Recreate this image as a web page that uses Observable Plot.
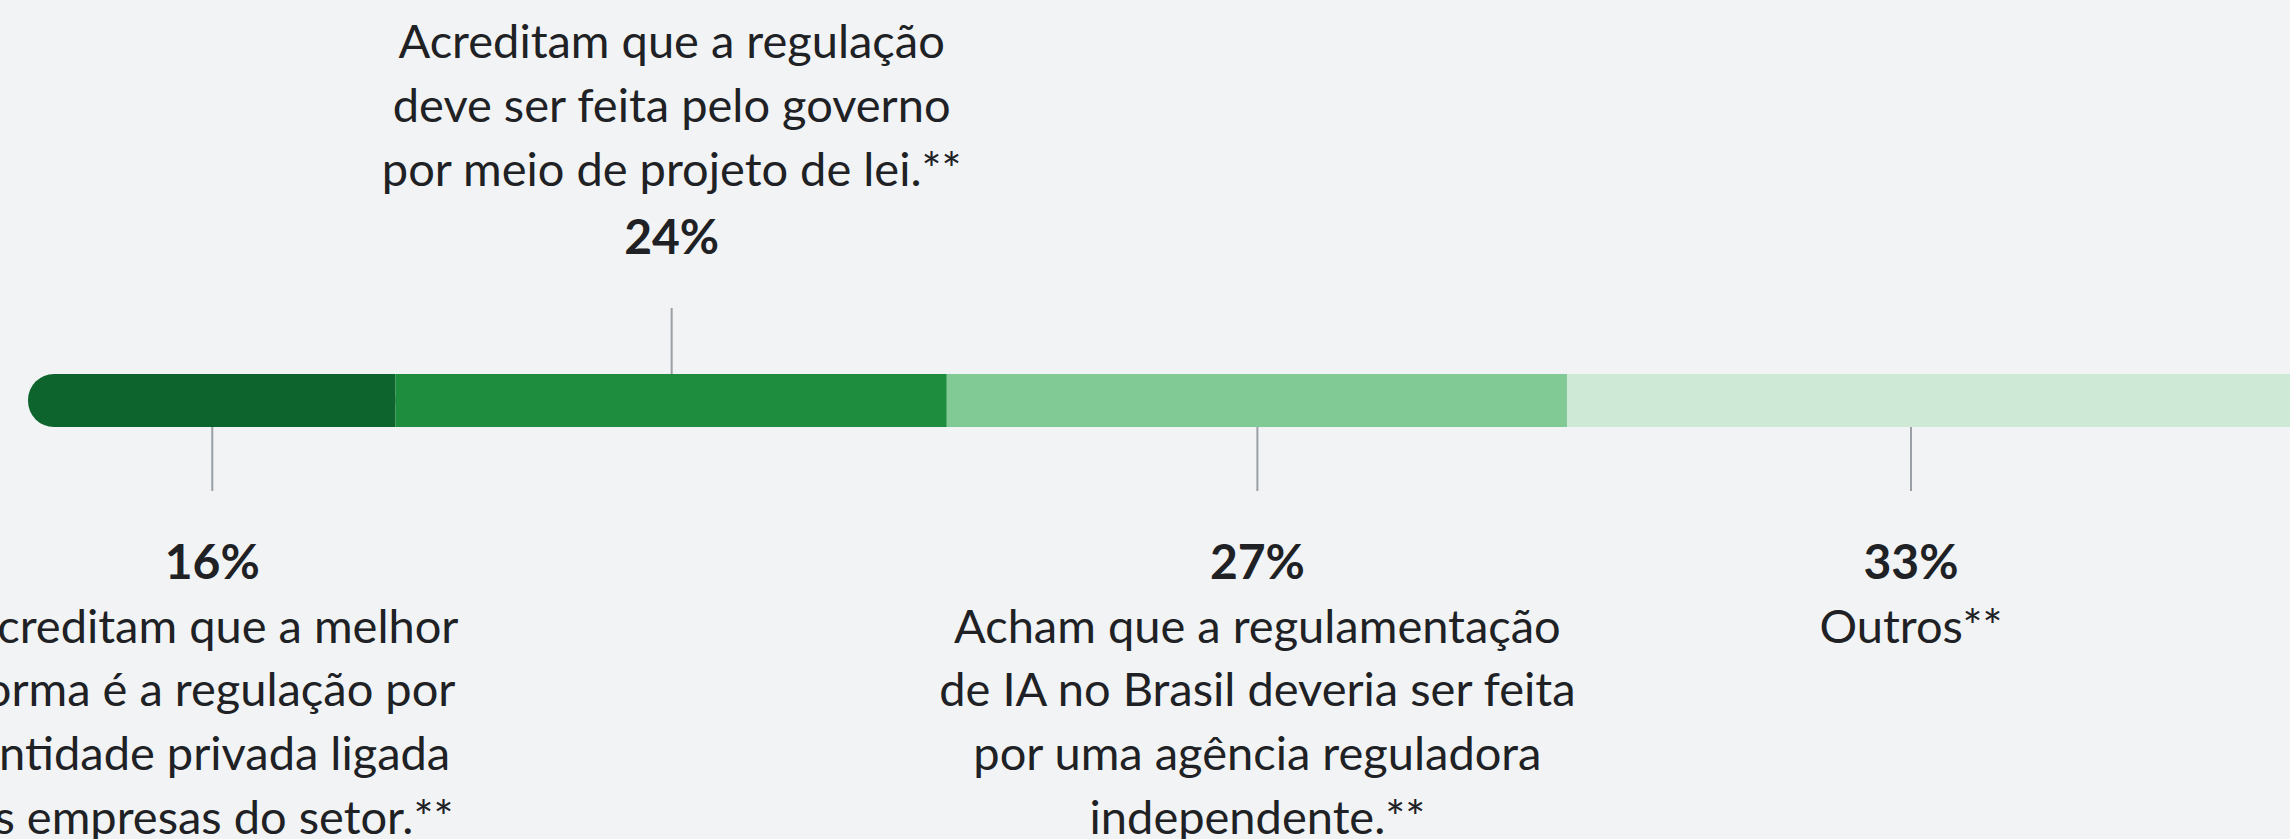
<!DOCTYPE html>
<html>
<head>
<meta charset="utf-8">
<script src="https://cdn.jsdelivr.net/npm/d3@7"></script>
<script src="https://cdn.jsdelivr.net/npm/@observablehq/plot@0.6"></script>
<style>
  html, body { margin: 0; padding: 0; background: #f1f3f4; }
  #chart svg { display: block; background: #f1f3f4; }
</style>
</head>
<body>
<div id="chart"></div>
<script>
// ---- data ----
const categories = ["Entidade privada", "Projeto de lei", "Agência reguladora", "Outros"];
const values = [16, 24, 27, 33];
const percentLabels = ["16%", "24%", "27%", "33%"];
const descriptions = [
  "Acreditam que a melhor\nforma é a regulação por\nentidade privada ligada\nàs empresas do setor.**",
  "Acreditam que a regulação\ndeve ser feita pelo governo\npor meio de projeto de lei.**",
  "Acham que a regulamentação\nde IA no Brasil deveria ser feita\npor uma agência reguladora\nindependente.**",
  "Outros**"
];
const colors = ["#0d652d", "#1e8e3e", "#81c995", "#ceead6"];

// ---- build table ----
const W = 2290, H = 839;
const xRange = [28, 2325];
// labels are centred on the visible part of each segment (right padding of 36px)
const visibleMax = 100 * (W - 36 - xRange[0]) / (xRange[1] - xRange[0]);
let cum = 0;
const rows = categories.map((c, i) => {
  const x1 = cum, x2 = cum + values[i];
  cum = x2;
  return {
    category: c, row: "resposta", value: values[i], x1, x2,
    mid: (x1 + Math.min(x2, visibleMax)) / 2,
    pct: percentLabels[i], desc: descriptions[i], color: colors[i]
  };
});
const above = rows.filter(d => d.category === "Projeto de lei");
const below = rows.filter(d => d.category !== "Projeto de lei");
const first = rows.slice(0, 1);

const font = "Lato, 'Open Sans', sans-serif";
const fs = 47, lh = 64 / 47;
const textColor = "#202124";
const tickColor = "#9aa0a6";

const chart = Plot.plot({
  width: W, height: H,
  margin: 0,
  style: { background: "#f1f3f4", fontFamily: font, overflow: "hidden" },
  x: { type: "linear", domain: [0, 100], range: xRange, axis: null },
  y: { type: "band", domain: ["resposta"], range: [374, 427], padding: 0, axis: null },
  color: { type: "identity" },
  marks: [
    // rounded left end of first segment
    Plot.barX(first, { x1: "x1", x2: "x2", y: "row", fill: "color", rx: 26 }),
    Plot.barX(first, { x1: d => (d.x1 + d.x2) / 2, x2: "x2", y: "row", fill: "color" }),
    Plot.barX(rows.slice(1), { x1: "x1", x2: "x2", y: "row", fill: "color" }),
    // leader ticks
    Plot.tickX(above, { x: "mid", y: "row", stroke: tickColor, strokeWidth: 2, insetTop: -66, insetBottom: 53 }),
    Plot.tickX(below, { x: "mid", y: "row", stroke: tickColor, strokeWidth: 2, insetTop: 53, insetBottom: -64 }),
    // above labels
    Plot.text(above, { x: "mid", y: "row", text: "pct", fontSize: 48, fontWeight: 700, fill: textColor,
      lineAnchor: "bottom", dy: -147.5, fontFamily: font }),
    Plot.text(above, { x: "mid", y: "row", text: "desc", fontSize: fs, fill: textColor,
      lineAnchor: "bottom", lineHeight: lh, dy: -215.5, fontFamily: font }),
    // below labels
    Plot.text(below, { x: "mid", y: "row", text: "pct", fontSize: 48, fontWeight: 700, fill: textColor,
      lineAnchor: "bottom", dy: 177.5, fontFamily: font }),
    Plot.text(below, { x: "mid", y: "row", text: "desc", fontSize: fs, fill: textColor,
      lineAnchor: "top", lineHeight: lh, dy: 642 - 0.71 * lh * fs - 400.5, fontFamily: font })
  ]
});
document.getElementById("chart").appendChild(chart);
</script>
</body>
</html>
